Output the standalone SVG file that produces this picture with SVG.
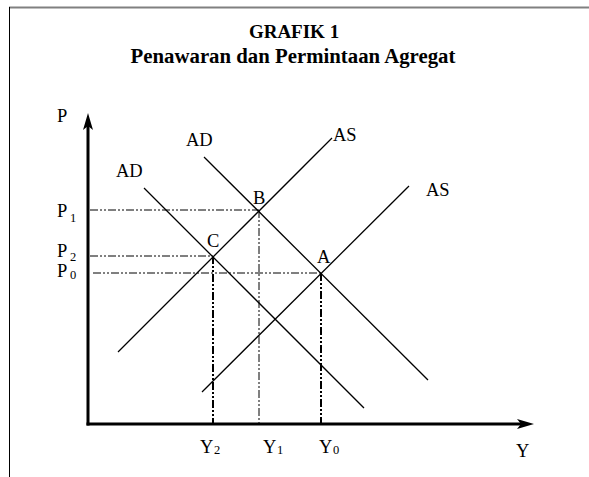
<svg xmlns="http://www.w3.org/2000/svg" width="589" height="477" viewBox="0 0 589 477">
<style>
text{font-family:"Liberation Serif","Times New Roman",serif;fill:#000}
.t{font-weight:bold;text-anchor:middle}
.l{font-size:18.5px}
.s{font-size:12.5px}
.c{stroke:#000;stroke-width:1.3;fill:none}
.d{stroke:#000;stroke-width:1;fill:none;stroke-dasharray:8 2 2 2 2 2}
.dt{stroke:#000;stroke-width:2;fill:none;stroke-dasharray:8 2 2 2 2 2}
</style>
<rect width="589" height="477" fill="#fff"/>
<g id="frame">
<line x1="9" y1="7.5" x2="589" y2="7.5" stroke="#808080" stroke-width="2"/>
<line x1="9.5" y1="7" x2="9.5" y2="477" stroke="#000" stroke-width="1"/>
</g>
<g id="title">
<text class="t" x="294" y="38" font-size="19">GRAFIK 1</text>
<text class="t" x="293" y="63" font-size="20.8">Penawaran dan Permintaan Agregat</text>
</g>
<g id="axes">
<line x1="88" y1="125" x2="88" y2="425.5" stroke="#000" stroke-width="3"/>
<path d="M88 113 L93 130 L88 126 L83 130 Z" fill="#000"/>
<line x1="86.5" y1="424" x2="524" y2="424" stroke="#000" stroke-width="3"/>
<path d="M534 424 L517 419 L521 424 L517 429 Z" fill="#000"/>
<text class="l" x="57" y="122">P</text>
<text class="l" x="516" y="457">Y</text>
</g>
<g id="connectors">
<line class="d" x1="90" y1="210" x2="259" y2="210"/>
<line class="d" x1="90" y1="256" x2="213" y2="256"/>
<line class="d" x1="93" y1="273" x2="321" y2="273"/>
<line class="dt" x1="213" y1="256" x2="213" y2="423"/>
<line class="d" x1="259" y1="210" x2="259" y2="423"/>
<line class="dt" x1="321" y1="273" x2="321" y2="423"/>
</g>
<g id="AD1"><line class="c" x1="204" y1="157" x2="428" y2="380"/><text class="l" x="186" y="146">AD</text></g>
<g id="AD2"><line class="c" x1="144" y1="188" x2="364" y2="408"/><text class="l" x="116" y="177">AD</text></g>
<g id="AS1"><line class="c" x1="118" y1="352" x2="332" y2="138"/><text class="l" x="333" y="141">AS</text></g>
<g id="AS2"><line class="c" x1="202" y1="392" x2="409" y2="186"/><text class="l" x="426" y="196">AS</text></g>
<g id="pointB"><text class="l" x="253" y="204">B</text></g>
<g id="pointC"><text class="l" x="207" y="247">C</text></g>
<g id="pointA"><text class="l" x="317" y="263">A</text></g>
<g id="plabels">
<text class="l" x="57" y="217">P</text><text class="s" x="70" y="222">1</text>
<text class="l" x="57" y="257">P</text><text class="s" x="70" y="261">2</text>
<text class="l" x="57" y="277">P</text><text class="s" x="70" y="279">0</text>
</g>
<g id="ylabels">
<text class="l" x="200" y="453">Y</text><text class="s" x="214" y="454">2</text>
<text class="l" x="263" y="453">Y</text><text class="s" x="277" y="454">1</text>
<text class="l" x="319" y="453">Y</text><text class="s" x="333" y="454">0</text>
</g>
</svg>
